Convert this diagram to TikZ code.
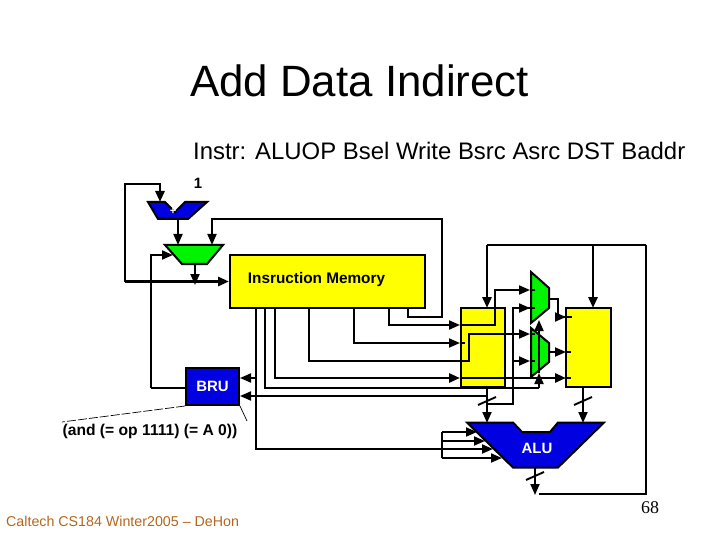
\documentclass[tikz,border=0pt]{standalone}
\usepackage{fontspec}
\setmainfont{Liberation Sans}
\newfontfamily\serifnum{Liberation Serif}
\usetikzlibrary{arrows.meta}
\definecolor{regyellow}{HTML}{FFFF00}
\definecolor{muxgreen}{HTML}{00F400}
\definecolor{alublue}{HTML}{0000E0}
\definecolor{footbrown}{HTML}{B5651D}
\tikzset{
    wire/.style={line width=1.9bp, draw=black},
    heavy/.style={line width=2.8bp, draw=black},
    hollow/.style={line width=0.7bp, draw=black},
    tipped/.style={-{Triangle[length=11bp,width=9bp]}},
    regbox/.style={draw=black, line width=2bp, fill=regyellow, inner sep=0pt},
    unitbox/.style={draw=black, line width=2bp, fill=alublue},
    muxbox/.style={draw=black, line width=2bp, fill=muxgreen, line join=miter},
    unitlabel/.style={font=\bfseries\fontsize{15}{17}\selectfont, text=white, inner sep=0pt},
    boldlabel/.style={font=\bfseries\fontsize{15.4}{17}\selectfont, inner sep=0pt}
}
\begin{document}
\begin{tikzpicture}[x=1bp, y=-1bp]
    \useasboundingbox (0,0) rectangle (720,540);
    % slide texts
    \node[inner sep=0pt, anchor=west, font=\fontsize{44}{50}\selectfont] (title) at (190,81) {Add Data Indirect};
    \node[inner sep=0pt, anchor=west, font=\fontsize{24}{28}\selectfont] (instr) at (193,151) {Instr: ALUOP Bsel Write Bsrc Asrc DST Baddr};
    \node[inner sep=0pt, anchor=west, text=footbrown, font=\fontsize{14.3}{16}\selectfont] (foot) at (6,521) {Caltech CS184 Winter2005 -- DeHon};
    \node[inner sep=0pt, font=\serifnum\fontsize{18}{20}\selectfont] (page) at (650,508) {68};
    \node[inner sep=0pt, font=\bfseries\fontsize{15}{17}\selectfont] (one) at (198,183) {1};
    % boxes
    \node[regbox, minimum width=195bp, minimum height=53bp] (imem) at (327.5,281.5) {};
    \node[boldlabel] (imemtext) at (316.5,280) {Insruction Memory};
    \node[regbox, minimum width=44.5bp, minimum height=79.5bp] (rega) at (483,347.5) {};
    \node[regbox, minimum width=45.5bp, minimum height=79.5bp] (regb) at (588.5,347.5) {};
    \node[unitbox, minimum width=53bp, minimum height=37bp, unitlabel] (bru) at (212.5,386.5) {BRU};
    \draw[unitbox] (148,202) -- (165,202) -- (175,212) -- (185,202) -- (207,202) -- (188,219) -- (158,219) -- cycle;
    \node[text=white, inner sep=0pt, font=\bfseries\fontsize{11}{11}\selectfont] (plus) at (173,211) {+};
    \draw[muxbox] (165,245) -- (223,245) -- (207,264) -- (182,264) -- cycle;
    \draw[muxbox] (531,272) -- (549,288) -- (549,308) -- (531,323) -- cycle;
    \draw[muxbox] (531,328) -- (549,343) -- (549,362) -- (531,377) -- cycle;
    \draw[unitbox, line join=miter] (467,422.5) -- (513,422.5) -- (522,432) -- (550,432) -- (558,422.5) -- (604,422.5) -- (558,467.5) -- (513,467.5) -- cycle;
    \node[unitlabel] (alu) at (537,448) {ALU};
    \node[boldlabel, font=\bfseries\fontsize{15.7}{17}\selectfont] (cond) at (150,431) {(and (= op 1111) (= A 0))};
    % junctions
    \coordinate (pcl) at (125,281.5);
    \coordinate (pctop) at (160,184);
    \coordinate (addin) at (160,202);
    \coordinate (addout) at (178,219);
    \coordinate (pcina) at (178,245);
    \coordinate (pcinb) at (212,245);
    \coordinate (pcinc) at (173,255);
    \coordinate (pcout) at (195,264);
    \coordinate (pcnext) at (195,285);
    \coordinate (brutake) at (151,388);
    \coordinate (memk) at (408,308);
    \coordinate (kcorner) at (442,317);
    \coordinate (ktop) at (442,219);
    \coordinate (memf) at (389,308);
    \coordinate (memr) at (354,308);
    \coordinate (mems) at (309,308);
    \coordinate (memc) at (275,308);
    \coordinate (memb) at (265,308);
    \coordinate (mema) at (256,308);
    \coordinate (rfin) at (460,325);
    \coordinate (rrin) at (460,343);
    \coordinate (rrstub) at (465,343);
    \coordinate (dstin) at (460,378);
    \coordinate (dstr) at (566,378);
    \coordinate (dststub) at (571,378);
    \coordinate (upa) at (530,290);
    \coordinate (upb) at (530,308);
    \coordinate (loa) at (530,334);
    \coordinate (lob) at (530,361);
    \coordinate (upstuba) at (535,290);
    \coordinate (upstubb) at (535,308);
    \coordinate (lostuba) at (535,334);
    \coordinate (lostubb) at (535,361);
    \coordinate (fa) at (495,325);
    \coordinate (sa) at (469,361);
    \coordinate (aout) at (487,387);
    \coordinate (ain) at (487,423);
    \coordinate (bout) at (583,387);
    \coordinate (bin) at (583,423);
    \coordinate (abus) at (487,404);
    \coordinate (abr) at (513,404);
    \coordinate (acmp) at (487,396);
    \coordinate (selc) at (539,388);
    \coordinate (sell) at (539,373);
    \coordinate (selu) at (539,320);
    \coordinate (upo) at (549,299);
    \coordinate (loo) at (549,352);
    \coordinate (upcorner) at (558,299);
    \coordinate (upend) at (566,317);
    \coordinate (upstub) at (572,317);
    \coordinate (loend) at (566,352);
    \coordinate (lostub) at (571,352);
    \coordinate (wbleft) at (487,245);
    \coordinate (wbmid) at (593,245);
    \coordinate (wbright) at (646,245);
    \coordinate (rain) at (487,308);
    \coordinate (rbin) at (593,308);
    \coordinate (aluout) at (535,468);
    \coordinate (alutip) at (535,495);
    \coordinate (wbend) at (539,494);
    \coordinate (forka) at (442,432);
    \coordinate (forkb) at (442,441);
    \coordinate (forkc) at (442,449);
    \coordinate (forkd) at (442,458);
    \coordinate (opa) at (477,432);
    \coordinate (opb) at (485,441);
    \coordinate (opc) at (493,449);
    \coordinate (opd) at (502,458);
    \coordinate (condl) at (62,422);
    \coordinate (condr) at (247,421);
    \coordinate (ticka) at (487,401);
    \coordinate (tickb) at (583,401);
    \coordinate (tickc) at (535,476);
    % program counter wires
    \draw[heavy, tipped] (pcl) |- (pctop) -- (addin);
    \draw[heavy, tipped] (pcl) -- (imem.west);
    \draw[wire, tipped] (addout) -- (pcina);
    \draw[wire, tipped] (pcout) -- (pcnext);
    \draw[wire, tipped] (brutake) |- (pcinc);
    \draw[wire] (brutake) -- (bru.west |- brutake);
    \draw[wire, tipped] (memk) |- (kcorner) |- (pcinb |- ktop) -- (pcinb);
    % decoded fields
    \draw[wire, tipped] (memf) |- (rfin);
    \draw[wire, tipped] (rfin) -- (fa) |- (upa);
    \draw[heavy] (upa) -- (upstuba);
    \draw[wire, tipped] (memr) |- (rrin);
    \draw[wire] (rrin) -- (rrstub);
    \draw[wire, tipped] (mems) |- (sa) |- (loa);
    \draw[heavy] (loa) -- (lostuba);
    \draw[heavy, tipped] (memc) |- (dstin);
    \draw[heavy, tipped] (dstin) -- (dstr);
    \draw[wire] (dstr) -- (dststub);
    \draw[wire] (memb) |- (selc);
    \draw[wire, tipped] (selc) -- (sell);
    \draw[wire, tipped] (sell) -- (selu);
    \draw[wire] (mema) |- (forkc);
    \draw[wire, tipped] (mema |- dstin) -- (bru.east |- dstin);
    % register outputs
    \draw[wire, tipped] (aout) -- (ain);
    \draw[wire, tipped] (bout) -- (bin);
    \draw[wire, tipped] (acmp) -- (bru.east |- acmp);
    \draw[wire] (abus) -- (abr) |- (upb);
    \draw[wire, tipped] (abr |- lob) -- (lob);
    \draw[wire, tipped] (abr |- upb) -- (upb);
    \draw[wire] (upb) -- (upstubb);
    \draw[wire] (lob) -- (lostubb);
    \draw[wire] (upo) -- (upcorner) |- (upend);
    \draw[wire, tipped] (upcorner |- upend) -- (upend);
    \draw[wire] (upend) -- (upstub);
    \draw[wire, tipped] (loo) -- (loend);
    \draw[wire] (loend) -- (lostub);
    % write back
    \draw[heavy, tipped] (wbleft) -- (rain);
    \draw[heavy, tipped] (wbmid) -- (rbin);
    \draw[heavy] (wbleft) -- (wbright);
    \draw[wire] (wbright) |- (wbend);
    \draw[wire, tipped] (aluout) -- (alutip);
    % alu operation
    \draw[wire] (forka) -- (forkd);
    \draw[wire, tipped] (forka) -- (opa);
    \draw[wire, tipped] (forkb) -- (opb);
    \draw[wire, tipped] (forkc) -- (opc);
    \draw[wire, tipped] (forkd) -- (opd);
    % bus marks
    \draw[wire] (ticka) +(-9,4) -- +(9,-4);
    \draw[wire] (tickb) +(-9,4) -- +(9,-4);
    \draw[wire] (tickc) +(-9,4) -- +(9,-4);
    % condition callout
    \draw[hollow, dashed, dash pattern=on 9bp off 2bp] (bru.south west) -- (condl);
    \draw[hollow] (bru.south east) -- (condr);
\end{tikzpicture}
\end{document}
